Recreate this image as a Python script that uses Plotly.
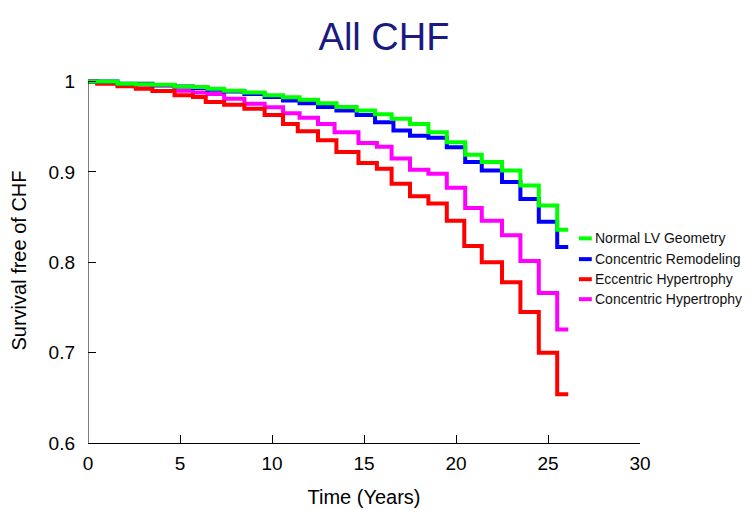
import plotly.graph_objects as go

# ---- data ----
groups = ["Normal LV Geometry", "Concentric Remodeling", "Eccentric Hypertrophy", "Concentric Hypertrophy"]
colors = ["#00ff00", "#0000ff", "#ff0000", "#ff00ff"]

normal_t = [0, 1.6, 2.6, 3.5, 4.7, 5.7, 6.5, 7.4, 8.5, 9.6, 10.6, 11.5, 12.5, 13.5, 14.6, 15.6, 16.5, 17.5,
            18.5, 19.5, 20.5, 21.4, 22.5, 23.5, 24.5, 25.5, 26.1]
normal_s = [1.0, 0.9975, 0.997, 0.9964, 0.9945, 0.994, 0.992, 0.990, 0.988, 0.985, 0.9827, 0.980, 0.976, 0.972,
            0.968, 0.964, 0.959, 0.953, 0.944, 0.933, 0.919, 0.911, 0.9017, 0.885, 0.863, 0.836, 0.836]

remod_t = [0, 1.6, 3.5, 4.7, 5.7, 6.5, 7.4, 8.5, 9.6, 10.6, 11.5, 12.5, 13.5, 14.6, 15.6, 16.6, 17.5, 18.5,
           19.5, 20.5, 21.4, 22.5, 23.5, 24.5, 25.5, 26.1]
remod_s = [1.0, 0.9975, 0.996, 0.9945, 0.993, 0.991, 0.989, 0.9864, 0.983, 0.979, 0.976, 0.972, 0.968, 0.963,
           0.955, 0.946, 0.940, 0.938, 0.9274, 0.911, 0.9017, 0.889, 0.870, 0.845, 0.817, 0.817]

ecc_t = [0, 0.5, 1.6, 2.6, 3.5, 4.7, 5.7, 6.4, 7.4, 8.5, 9.6, 10.6, 11.4, 12.5, 13.5, 14.7, 15.7, 16.5, 17.5,
         18.5, 19.5, 20.45, 21.4, 22.5, 23.5, 24.5, 25.5, 26.1]
ecc_s = [1.0, 0.9975, 0.995, 0.992, 0.9895, 0.985, 0.983, 0.9775, 0.9743, 0.970, 0.963, 0.953, 0.945, 0.935,
         0.922, 0.910, 0.9035, 0.887, 0.873, 0.865, 0.846, 0.818, 0.800, 0.778, 0.745, 0.700, 0.654, 0.654]

conc_t = [0, 0.5, 1.6, 2.6, 3.5, 4.7, 5.7, 6.5, 7.4, 8.5, 9.6, 10.6, 11.5, 12.5, 13.4, 14.7, 15.7, 16.5, 17.5,
          18.5, 19.5, 20.5, 21.4, 22.5, 23.5, 24.5, 25.5, 26.1]
conc_s = [1.0, 0.9985, 0.997, 0.9965, 0.9956, 0.990, 0.988, 0.9864, 0.981, 0.9754, 0.9716, 0.965, 0.960, 0.953,
          0.944, 0.932, 0.928, 0.915, 0.9025, 0.898, 0.8825, 0.860, 0.846, 0.830, 0.8015, 0.766, 0.7256, 0.7256]

x_ticks = [0, 5, 10, 15, 20, 25, 30]
y_ticks = [0.6, 0.7, 0.8, 0.9, 1.0]
y_ticktext = ["0.6", "0.7", "0.8", "0.9", "1"]

series = {
    "Normal LV Geometry": (normal_t, normal_s),
    "Concentric Remodeling": (remod_t, remod_s),
    "Eccentric Hypertrophy": (ecc_t, ecc_s),
    "Concentric Hypertrophy": (conc_t, conc_s),
}
color_of = dict(zip(groups, colors))

FONT = "Arial, Liberation Sans, sans-serif"
fig = go.Figure()

draw_order = ["Concentric Hypertrophy", "Eccentric Hypertrophy", "Concentric Remodeling", "Normal LV Geometry"]
for name in draw_order:
    t, s = series[name]
    fig.add_trace(go.Scatter(x=t, y=s, mode="lines", line=dict(color=color_of[name], width=4, shape="hv"),
                             name=name, showlegend=False, hoverinfo="skip"))

# manual legend (short line swatch + text)
leg_y = [0.8265, 0.8035, 0.7813, 0.7592]
for name, ly in zip(groups, leg_y):
    fig.add_shape(type="line", xref="x", yref="y", x0=26.68, x1=27.38, y0=ly, y1=ly,
                  line=dict(color=color_of[name], width=4))
    fig.add_annotation(x=27.42, y=ly, xref="x", yref="y", text=name, showarrow=False,
                       xanchor="left", yanchor="middle", font=dict(family=FONT, size=14, color="#111111"))

# y axis line from 0.6 to 1.0
fig.add_shape(type="line", xref="x", yref="y", x0=0, x1=0, y0=0.6, y1=1.0, line=dict(color="#000000", width=1))

# the page body adds an 8px offset, so the figure is sized 742x502
fig.update_layout(
    width=742, height=502,
    paper_bgcolor="white", plot_bgcolor="white",
    margin=dict(l=80, r=110, t=70, b=67),
    title=dict(text="All CHF", x=376 / 742, xref="container", xanchor="center",
               y=1 - 29 / 502, yref="container", yanchor="middle",
               font=dict(family=FONT, size=38, color="#1a1a80")),
    font=dict(family=FONT, color="#000000"),
    showlegend=False,
)
fig.update_xaxes(range=[0, 30], tickvals=x_ticks, ticks="inside", ticklen=8, tickcolor="#000000",
                 showgrid=False, zeroline=False, showline=True, linecolor="#000000", linewidth=1,
                 automargin=False,
                 tickfont=dict(size=19, color="#000000"), ticklabelstandoff=3,
                 title=dict(text="Time (Years)", font=dict(size=20, color="#000000"), standoff=17))
fig.update_yaxes(range=[0.6, 1.004], tickvals=y_ticks, ticktext=y_ticktext, ticks="inside", ticklen=8,
                 tickcolor="#000000", showgrid=False, zeroline=False, showline=False, automargin=False,
                 tickfont=dict(size=19, color="#000000"), ticklabelstandoff=12,
                 title=dict(text="Survival free of CHF", font=dict(size=20, color="#000000"), standoff=22))

fig.write_html("out.html")
